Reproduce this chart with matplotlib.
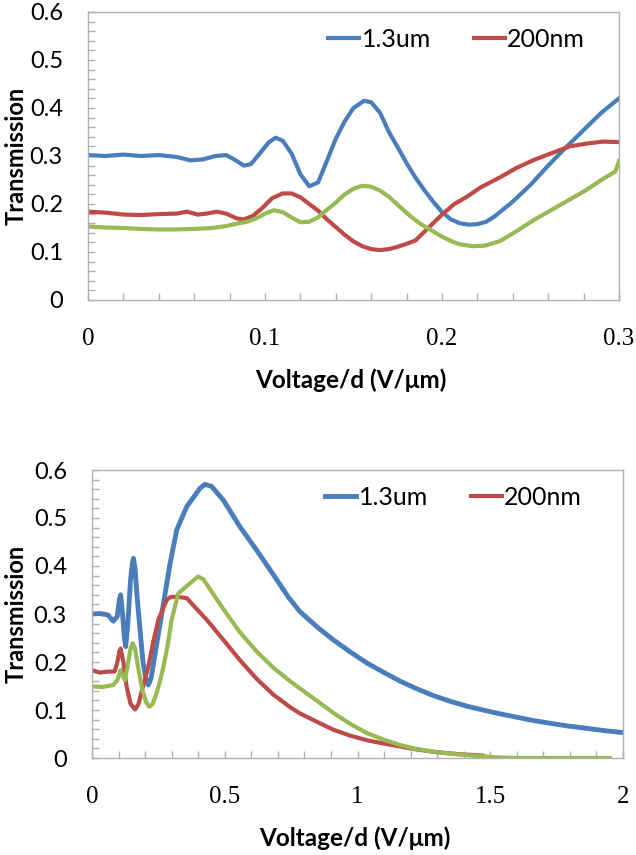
import numpy as np
import matplotlib.pyplot as plt
from matplotlib.ticker import MultipleLocator

# colours (Excel 2007 palette)
BLUE = '#4a7ebb'
RED = '#be4b48'
GREEN = '#98b954'
GRAY = '#b0b0b0'

# ---- top panel: 0 - 0.3 V/um ----
top_blue_x = [0, 0.01, 0.02, 0.03, 0.04, 0.05, 0.058, 0.065, 0.072, 0.078, 0.083, 0.088,
              0.092, 0.097, 0.102, 0.106, 0.110, 0.115, 0.120, 0.125, 0.130, 0.135, 0.140,
              0.145, 0.150, 0.156, 0.160, 0.165, 0.170, 0.175, 0.180, 0.185, 0.190, 0.195,
              0.200, 0.205, 0.210, 0.215, 0.220, 0.225, 0.230, 0.240, 0.250, 0.260, 0.270,
              0.280, 0.290, 0.300]
top_blue_y = [0.302, 0.300, 0.303, 0.300, 0.302, 0.298, 0.291, 0.293, 0.300, 0.302, 0.292, 0.280,
              0.283, 0.305, 0.328, 0.338, 0.332, 0.305, 0.262, 0.237, 0.245, 0.290, 0.336,
              0.372, 0.400, 0.415, 0.412, 0.390, 0.350, 0.318, 0.285, 0.255, 0.229, 0.205,
              0.183, 0.168, 0.160, 0.157, 0.158, 0.163, 0.175, 0.205, 0.240, 0.280, 0.318,
              0.354, 0.390, 0.420]

top_red_x = [0, 0.01, 0.02, 0.03, 0.04, 0.05, 0.056, 0.062, 0.067, 0.073, 0.078, 0.084, 0.088,
             0.093, 0.098, 0.104, 0.110, 0.115, 0.120, 0.125, 0.130, 0.135, 0.140, 0.145,
             0.150, 0.155, 0.160, 0.165, 0.170, 0.175, 0.180, 0.185, 0.190, 0.195, 0.200,
             0.207, 0.214, 0.222, 0.233, 0.242, 0.252, 0.262, 0.272, 0.282, 0.291, 0.300]
top_red_y = [0.184, 0.182, 0.178, 0.177, 0.179, 0.180, 0.184, 0.178, 0.180, 0.184, 0.180, 0.170, 0.168,
             0.175, 0.190, 0.212, 0.222, 0.222, 0.214, 0.200, 0.186, 0.168, 0.152, 0.136,
             0.122, 0.112, 0.106, 0.104, 0.106, 0.111, 0.117, 0.124, 0.142, 0.160, 0.178,
             0.200, 0.215, 0.235, 0.256, 0.275, 0.292, 0.306, 0.320, 0.326, 0.330, 0.329]

top_green_x = [0, 0.01, 0.02, 0.03, 0.04, 0.05, 0.06, 0.07, 0.078, 0.085, 0.090, 0.095, 0.100,
               0.105, 0.110, 0.115, 0.120, 0.125, 0.130, 0.135, 0.140, 0.145, 0.150, 0.155,
               0.160, 0.165, 0.170, 0.176, 0.182, 0.188, 0.195, 0.200, 0.205, 0.210, 0.217,
               0.224, 0.233, 0.242, 0.252, 0.262, 0.272, 0.281, 0.290, 0.298, 0.300]
top_green_y = [0.153, 0.151, 0.150, 0.148, 0.147, 0.147, 0.148, 0.150, 0.154, 0.160, 0.163, 0.170, 0.180,
               0.187, 0.183, 0.172, 0.162, 0.163, 0.172, 0.188, 0.203, 0.220, 0.232, 0.238,
               0.236, 0.228, 0.215, 0.195, 0.175, 0.158, 0.143, 0.132, 0.123, 0.116, 0.112,
               0.113, 0.123, 0.143, 0.167, 0.188, 0.209, 0.228, 0.250, 0.268, 0.290]

# ---- bottom panel: 0 - 2 V/um ----
bot_blue_x = [0, 0.03, 0.06, 0.08, 0.095, 0.103, 0.108, 0.115, 0.122, 0.127, 0.135, 0.145,
              0.152, 0.156, 0.162, 0.170, 0.181, 0.192, 0.203, 0.212, 0.222, 0.240, 0.2625,
              0.280, 0.294, 0.319, 0.357, 0.407, 0.425, 0.450, 0.495, 0.557, 0.620, 0.683,
              0.740, 0.783, 0.850, 0.909, 0.970, 1.035, 1.100, 1.161, 1.220, 1.286, 1.350,
              1.412, 1.480, 1.537, 1.600, 1.663, 1.730, 1.788, 1.860, 1.930, 2.000]
bot_blue_y = [0.300, 0.301, 0.298, 0.285, 0.295, 0.330, 0.340, 0.300, 0.250, 0.232, 0.280, 0.370,
              0.405, 0.416, 0.395, 0.335, 0.267, 0.200, 0.165, 0.152, 0.165, 0.225, 0.300,
              0.358, 0.405, 0.475, 0.524, 0.562, 0.570, 0.566, 0.537, 0.482, 0.433, 0.382,
              0.335, 0.305, 0.272, 0.246, 0.222, 0.198, 0.178, 0.160, 0.145, 0.130, 0.118,
              0.108, 0.099, 0.092, 0.085, 0.078, 0.072, 0.067, 0.062, 0.057, 0.053]

bot_red_x = [0, 0.03, 0.06, 0.085, 0.095, 0.103, 0.108, 0.118, 0.130, 0.145, 0.162, 0.175,
             0.190, 0.212, 0.230, 0.250, 0.281, 0.294, 0.320, 0.357, 0.390, 0.432, 0.495,
             0.557, 0.620, 0.683, 0.746, 0.783, 0.860, 0.909, 0.970, 1.035, 1.100, 1.161,
             1.220, 1.286, 1.380, 1.470]
bot_red_y = [0.183, 0.178, 0.180, 0.180, 0.198, 0.222, 0.228, 0.200, 0.150, 0.113, 0.101, 0.112,
             0.145, 0.190, 0.240, 0.288, 0.329, 0.335, 0.336, 0.333, 0.313, 0.288, 0.246,
             0.204, 0.165, 0.132, 0.106, 0.093, 0.072, 0.059, 0.047, 0.037, 0.030, 0.024,
             0.018, 0.013, 0.008, 0.005]

bot_green_x = [0, 0.04, 0.08, 0.095, 0.108, 0.115, 0.124, 0.135, 0.145, 0.153, 0.162, 0.175,
               0.190, 0.205, 0.216, 0.228, 0.243, 0.256, 0.269, 0.285, 0.300, 0.325, 0.369,
               0.400, 0.420, 0.444, 0.495, 0.557, 0.620, 0.683, 0.746, 0.783, 0.850, 0.909,
               0.970, 1.035, 1.100, 1.161, 1.220, 1.286, 1.350, 1.412, 1.480, 1.537, 1.600,
               1.700, 1.800, 1.950]
bot_green_y = [0.149, 0.148, 0.152, 0.162, 0.183, 0.172, 0.162, 0.195, 0.228, 0.239, 0.228, 0.185,
               0.140, 0.115, 0.107, 0.112, 0.135, 0.160, 0.190, 0.235, 0.288, 0.343, 0.364,
               0.378, 0.372, 0.352, 0.310, 0.262, 0.222, 0.188, 0.160, 0.145, 0.118, 0.094,
               0.072, 0.052, 0.038, 0.027, 0.019, 0.013, 0.009, 0.006, 0.003, 0.001, 0.0,
               0.0, 0.0, 0.0]

legend_labels = ['1.3um', '200nm']

SANS = ['Lato', 'DejaVu Sans']
SERIF = ['Liberation Serif', 'DejaVu Serif']

fig = plt.figure(figsize=(6.36, 8.55), dpi=100)
ax1 = fig.add_axes([88/636, 1-300/855, 531/636, 288/855])
ax2 = fig.add_axes([92/636, 1-758/855, 531/636, 288/855])


def style(ax, xmax, xmajor, xminor, legend_x, left_px):
    ax.set_xlim(0, xmax)
    ax.set_ylim(0, 0.6)
    ax.xaxis.set_major_locator(MultipleLocator(xmajor))
    ax.xaxis.set_minor_locator(MultipleLocator(xminor))
    ax.yaxis.set_major_locator(MultipleLocator(0.1))
    ax.yaxis.set_minor_locator(MultipleLocator(0.02))
    for s in ax.spines.values():
        s.set_color(GRAY)
        s.set_linewidth(1)
    ax.tick_params(which='both', direction='in', color=GRAY, length=5, width=1)
    ax.tick_params(axis='x', which='major', pad=20)
    ax.tick_params(axis='y', which='major', pad=18)
    ax.set_yticks([0, 0.1, 0.2, 0.3, 0.4, 0.5, 0.6])
    ax.set_yticklabels(['0', '0.1', '0.2', '0.3', '0.4', '0.5', '0.6'], family=SANS, fontsize=17)
    ax.set_ylabel('Transmission', family=SANS, fontsize=17, fontweight='bold')
    ax.yaxis.label.set_va('center')
    ax.yaxis.set_label_coords((16 - left_px) / 531, 0.5)
    ax.set_xlabel('Voltage/d (V/\u03bcm)', family=SANS, fontsize=17.5, fontweight='bold')
    ax.xaxis.set_label_coords(0.495, -0.28)
    ax.xaxis.label.set_va('center')
    ax.legend(legend_labels, loc='center left', bbox_to_anchor=(legend_x, 0.906),
              ncol=2, frameon=False, borderpad=0, borderaxespad=0,
              handlelength=1.25, handletextpad=0.1, columnspacing=1.7,
              prop={'family': SANS, 'size': 18})


ax1.plot(top_blue_x, top_blue_y, color=BLUE, lw=3)
ax1.plot(top_red_x, top_red_y, color=RED, lw=3)
ax1.plot(top_green_x, top_green_y, color=GREEN, lw=3)
style(ax1, 0.3, 0.1, 0.02, 0.452, 88)
ax1.set_xticks([0, 0.1, 0.2, 0.3])
ax1.set_xticklabels(['0', '0.1', '0.2', '0.3'], family=SERIF, fontsize=18)

ax2.plot(bot_blue_x, bot_blue_y, color=BLUE, lw=3.5)
ax2.plot(bot_red_x, bot_red_y, color=RED, lw=3)
ax2.plot(bot_green_x, bot_green_y, color=GREEN, lw=3)
style(ax2, 2.0, 0.5, 0.1, 0.439, 92)
ax2.set_xticks([0, 0.5, 1, 1.5, 2])
ax2.set_xticklabels(['0', '0.5', '1', '1.5', '2'], family=SERIF, fontsize=18)

fig.savefig('out.png', dpi=100)
